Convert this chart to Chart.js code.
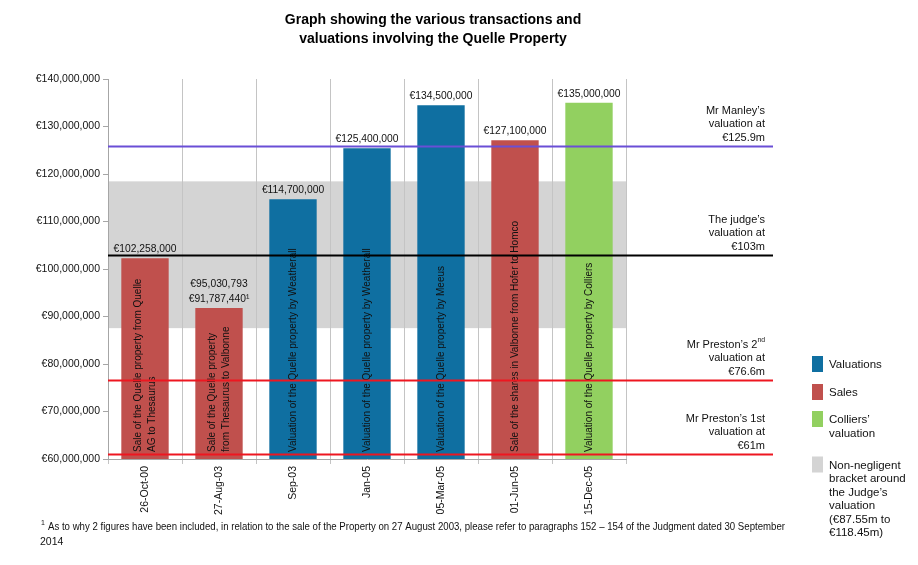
<!DOCTYPE html>
<html>
<head>
<meta charset="utf-8">
<script src="https://cdn.jsdelivr.net/npm/chart.js@4.4.0/dist/chart.umd.min.js"></script>
<style>
html, body { margin: 0; padding: 0; background: #fff; }
#wrap { width: 918px; height: 565px; }
</style>
</head>
<body>
<div id="wrap"><canvas id="quelleChart" width="918" height="565"></canvas></div>
<script>
// chart data
const categories = ['26-Oct-00', '27-Aug-03', 'Sep-03', 'Jan-05', '05-Mar-05', '01-Jun-05', '15-Dec-05'];
const values = [102258000, 91787440, 114700000, 125400000, 134500000, 127100000, 135000000];
const kinds = ['sale', 'sale', 'valuation', 'valuation', 'valuation', 'sale', 'colliers'];
const valueLabels = [
    ['€102,258,000'],
    ['€95,030,793', '€91,787,440¹'],
    ['€114,700,000'],
    ['€125,400,000'],
    ['€134,500,000'],
    ['€127,100,000'],
    ['€135,000,000']
];
const descriptions = [
    ['Sale of the Quelle property from Quelle', 'AG to Thesaurus'],
    ['Sale of the Quelle property', 'from Thesaurus to Valbonne'],
    ['Valuation of the Quelle property by Weatherall'],
    ['Valuation of the Quelle property by Weatherall'],
    ['Valuation of the Quelle property by Meeus'],
    ['Sale of the shares in Valbonne from Hofer to Homco'],
    ['Valuation of the Quelle property by Colliers']
];

// reference lines
const refValues = [125900000, 103000000, 76600000, 61000000];
const refKinds = ['manley', 'judge', 'preston', 'preston'];
const refLabels = [
    ['Mr Manley’s', 'valuation at', '€125.9m'],
    ['The judge’s', 'valuation at', '€103m'],
    ['Mr Preston’s 2^nd', 'valuation at', '€76.6m'],
    ['Mr Preston’s 1st', 'valuation at', '€61m']
];

// non-negligent bracket
const bracketLow = 87550000;
const bracketHigh = 118450000;

const yMin = 60000000;
const yMax = 140000000;
const yStep = 10000000;

const legendItems = [
    { kind: 'valuation', lines: ['Valuations'] },
    { kind: 'sale', lines: ['Sales'] },
    { kind: 'colliers', lines: ['Colliers’', 'valuation'] },
    { kind: 'bracket', lines: ['Non-negligent', 'bracket around', 'the Judge’s', 'valuation', '(€87.55m to', '€118.45m)'] }
];

const titleLines = ['Graph showing the various transactions and', 'valuations involving the Quelle Property'];
const footnoteLines = ['As to why 2 figures have been included, in relation to the sale of the Property on 27 August 2003, please refer to paragraphs 152 – 154 of the Judgment dated 30 September', '2014'];

const colors = {
    valuation: '#0F6FA1',
    sale: '#C0504D',
    colliers: '#92D060',
    bracket: '#D4D4D4',
    manley: '#6A4FD6',
    judge: '#000000',
    preston: '#EE1620'
};

const FONT = '"Liberation Sans", Arial, sans-serif';

function fmtEuro(v) {
    return '€' + v.toLocaleString('en-US');
}

// draws "text^sup" with a small raised part
function drawSupText(ctx, text, x, y, size, align) {
    const parts = text.split('^');
    ctx.font = size + 'px ' + FONT;
    const w1 = ctx.measureText(parts[0]).width;
    let w2 = 0;
    if (parts[1]) {
        ctx.font = (size * 0.62) + 'px ' + FONT;
        w2 = ctx.measureText(parts[1]).width;
    }
    let startX = x;
    if (align === 'right') startX = x - w1 - w2;
    if (align === 'center') startX = x - (w1 + w2) / 2;
    ctx.textAlign = 'left';
    ctx.font = size + 'px ' + FONT;
    ctx.fillText(parts[0], startX, y);
    if (parts[1]) {
        ctx.font = (size * 0.62) + 'px ' + FONT;
        ctx.fillText(parts[1], startX + w1, y - size * 0.38);
    }
}

const bracketPlugin = {
    id: 'bracketBand',
    beforeDraw(chart) {
        const { ctx, chartArea, scales } = chart;
        const yTop = scales.y.getPixelForValue(bracketHigh);
        const yBot = scales.y.getPixelForValue(bracketLow);
        ctx.save();
        ctx.fillStyle = colors.bracket;
        ctx.fillRect(chartArea.left, yTop, chartArea.right - chartArea.left, yBot - yTop);
        ctx.restore();
    }
};

const barTextPlugin = {
    id: 'barText',
    afterDatasetsDraw(chart) {
        const ctx = chart.ctx;
        const meta = chart.getDatasetMeta(0);
        const bottom = chart.scales.y.getPixelForValue(yMin);
        ctx.save();
        ctx.fillStyle = '#111';
        meta.data.forEach((bar, i) => {
            // value above bar
            const lines = valueLabels[i];
            ctx.font = '10.3px ' + FONT;
            ctx.textAlign = 'center';
            ctx.textBaseline = 'alphabetic';
            lines.forEach((t, k) => {
                ctx.fillText(t, bar.x, bar.y - 6 - (lines.length - 1 - k) * 15);
            });
            // vertical description inside bar
            const d = descriptions[i];
            ctx.save();
            ctx.font = '10px ' + FONT;
            ctx.translate(bar.x, bottom - 7);
            ctx.rotate(-Math.PI / 2);
            ctx.textAlign = 'left';
            ctx.textBaseline = 'middle';
            d.forEach((t, k) => {
                ctx.fillText(t, 0, (k - (d.length - 1) / 2) * 14);
            });
            ctx.restore();
        });
        ctx.restore();
    }
};

const refLinePlugin = {
    id: 'refLines',
    afterDraw(chart) {
        const { ctx, chartArea, scales } = chart;
        const lineEnd = 773;
        ctx.save();
        refValues.forEach((v, i) => {
            const y = Math.round(scales.y.getPixelForValue(v)) + 0.5;
            ctx.strokeStyle = colors[refKinds[i]];
            ctx.lineWidth = 2;
            ctx.beginPath();
            ctx.moveTo(chartArea.left, y);
            ctx.lineTo(lineEnd, y);
            ctx.stroke();
            ctx.fillStyle = '#111';
            ctx.textBaseline = 'middle';
            const lab = refLabels[i];
            lab.forEach((t, k) => {
                drawSupText(ctx, t, 765, y - 9 - (lab.length - 1 - k) * 13.5, 11, 'right');
            });
        });
        ctx.restore();
    }
};

const decorPlugin = {
    id: 'decor',
    afterDraw(chart) {
        const ctx = chart.ctx;
        ctx.save();
        // title
        ctx.fillStyle = '#000';
        ctx.font = 'bold 14px ' + FONT;
        ctx.textAlign = 'center';
        ctx.textBaseline = 'middle';
        titleLines.forEach((t, k) => ctx.fillText(t, 433, 20 + k * 19));

        // legend
        let y = 356;
        const gaps = [28, 27, 32, 0];
        legendItems.forEach((item, i) => {
            ctx.fillStyle = colors[item.kind];
            ctx.fillRect(812, y, 11, 16);
            ctx.fillStyle = '#111';
            ctx.font = '11.5px ' + FONT;
            ctx.textAlign = 'left';
            ctx.textBaseline = 'middle';
            item.lines.forEach((t, k) => ctx.fillText(t, 829, y + 9 + k * 13.5));
            y += gaps[i] + (item.lines.length - 1) * 13.5;
        });

        // footnote
        ctx.fillStyle = '#111';
        ctx.textAlign = 'left';
        ctx.textBaseline = 'middle';
        ctx.font = '7px ' + FONT;
        ctx.fillText('1', 41, 523);
        ctx.font = '10.5px ' + FONT;
        ctx.fillText(footnoteLines[0], 48, 527, 737);
        ctx.fillText(footnoteLines[1], 40, 542);
        ctx.restore();
    }
};

new Chart(document.getElementById('quelleChart'), {
    type: 'bar',
    data: {
        labels: categories,
        datasets: [{
            data: values,
            backgroundColor: kinds.map(k => colors[k]),
            borderWidth: 0,
            categoryPercentage: 1,
            barPercentage: 0.64
        }]
    },
    options: {
        responsive: false,
        devicePixelRatio: 1,
        animation: false,
        layout: { padding: { left: 0, top: 79, right: 292, bottom: 0 } },
        plugins: {
            legend: { display: false },
            tooltip: { enabled: false }
        },
        scales: {
            x: {
                afterFit(scale) { scale.height = 106; },
                grid: { color: '#C4C4C4', offset: true, tickLength: 5 },
                border: { color: '#A6A6A6' },
                ticks: {
                    minRotation: 90,
                    maxRotation: 90,
                    padding: 2,
                    color: '#111',
                    font: { family: FONT, size: 10.5 }
                }
            },
            y: {
                min: yMin,
                max: yMax,
                afterFit(scale) { scale.width = 108; },
                grid: { drawOnChartArea: false, tickLength: 5, color: '#A6A6A6' },
                border: { color: '#A6A6A6' },
                ticks: {
                    stepSize: yStep,
                    padding: 3,
                    color: '#111',
                    font: { family: FONT, size: 10.5 },
                    callback: v => fmtEuro(v)
                }
            }
        }
    },
    plugins: [bracketPlugin, barTextPlugin, refLinePlugin, decorPlugin]
});
</script>
</body>
</html>
